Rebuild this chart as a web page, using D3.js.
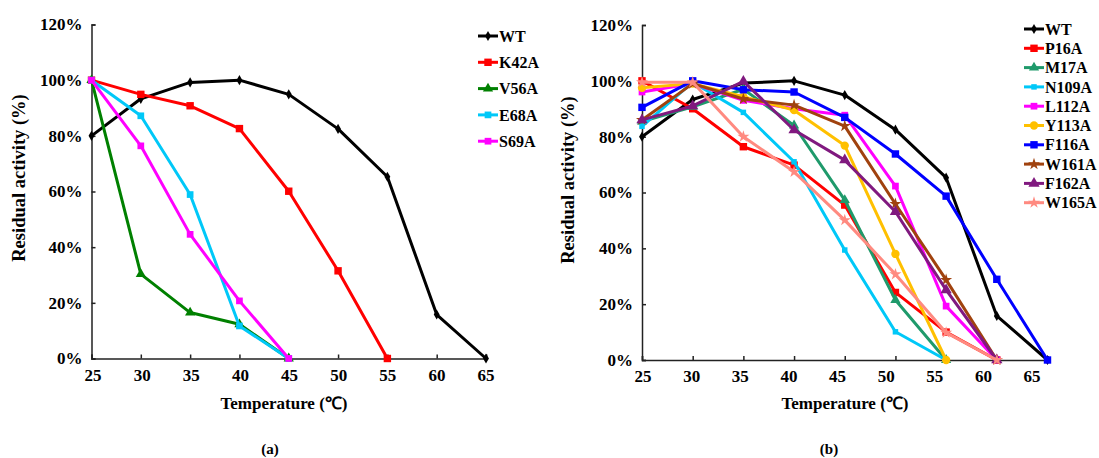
<!DOCTYPE html>
<html>
<head>
<meta charset="utf-8">
<script src="https://cdn.jsdelivr.net/npm/d3@7"></script>
<style>
  body { margin: 0; background: #fff; }
  text { font-family: "Liberation Serif", "Times New Roman", serif; font-weight: bold; fill: #000; }
</style>
</head>
<body>
<svg id="chart" width="1099" height="458"></svg>
<script>
// temperatures (category axis)
const temps = [25, 30, 35, 40, 45, 50, 55, 60, 65];
const yTicks = [0, 20, 40, 60, 80, 100, 120];

// panel (a) residual activity, %
const wtA = [80, 93.3, 99.2, 100, 94.9, 82.5, 65.3, 15.8, 0];
const k42a = [100, 94.9, 90.8, 82.6, 60.1, 31.5, 0];
const v56a = [100, 30.3, 16.5, 12.3, 0];
const e68a = [100, 87.2, 58.9, 11.7, 0];
const s69a = [100, 76.4, 44.6, 20.7, 0];

// panel (b) residual activity, %
const wtB = [80, 93.3, 99.2, 100, 94.9, 82.5, 65.3, 15.8, 0];
const p16a = [100, 90, 76.4, 69.8, 55.5, 24.2, 10, 0];
const m17a = [85.4, 90.7, 97, 84, 57.3, 21.5, 0];
const n109a = [83.7, 99.5, 88.7, 71, 39.4, 10.1, 0];
const l112a = [96, 99, 93, 90, 87.7, 62.3, 19.3, 0];
const y113a = [97.5, 99, 94.3, 89.5, 76.8, 38, 0];
const f116a = [90.5, 100, 96.8, 96, 86.9, 73.8, 58.7, 28.9, 0];
const w161a = [86, 99, 93.5, 91.3, 83.8, 55.9, 28.7, 0];
const f162a = [86, 91, 99.8, 82.4, 71.6, 53.1, 25.1, 0];
const w165a = [99.5, 99.5, 80, 67.4, 50.1, 30.7, 9.8, 0];

const seriesA = [
  { name: 'WT', values: wtA, color: '#000000', symbol: d3.symbolDiamond, size: 30 },
  { name: 'K42A', values: k42a, color: '#ff0000', symbol: d3.symbolSquare, size: 55 },
  { name: 'V56A', values: v56a, color: '#008000', symbol: d3.symbolTriangle, size: 45 },
  { name: 'E68A', values: e68a, color: '#00c8f8', symbol: d3.symbolSquare, size: 45 },
  { name: 'S69A', values: s69a, color: '#ff00ff', symbol: d3.symbolSquare, size: 45 }
];

const seriesB = [
  { name: 'WT', values: wtB, color: '#000000', symbol: d3.symbolDiamond, size: 30 },
  { name: 'P16A', values: p16a, color: '#ff0000', symbol: d3.symbolSquare, size: 55 },
  { name: 'M17A', values: m17a, color: '#1f9a6b', symbol: d3.symbolTriangle, size: 45 },
  { name: 'N109A', values: n109a, color: '#00c8f8', symbol: d3.symbolSquare, size: 30 },
  { name: 'L112A', values: l112a, color: '#ff00ff', symbol: d3.symbolSquare, size: 45 },
  { name: 'Y113A', values: y113a, color: '#ffc000', symbol: d3.symbolCircle, size: 55 },
  { name: 'F116A', values: f116a, color: '#0000ff', symbol: d3.symbolSquare, size: 55 },
  { name: 'W161A', values: w161a, color: '#a0420e', symbol: d3.symbolStar, size: 45 },
  { name: 'F162A', values: f162a, color: '#80197f', symbol: d3.symbolTriangle, size: 55 },
  { name: 'W165A', values: w165a, color: '#ff8a80', symbol: d3.symbolStar, size: 45 }
];

const svg = d3.select('#chart');
svg.append('rect').attr('width', 1099).attr('height', 458).attr('fill', '#fff');

function drawPanel(opts) {
  const g = svg.append('g');
  const x = d3.scalePoint().domain(temps).range(opts.xRange);
  const xLab = d3.scalePoint().domain(temps).range(opts.labRange);
  const y = d3.scaleLinear().domain([0, 120]).range(opts.yRange);

  // y axis
  const yAxis = g.append('g')
    .attr('transform', `translate(${opts.xRange[0]},0)`)
    .call(d3.axisLeft(y).tickValues(yTicks).tickSize(-4).tickPadding(9).tickFormat((d) => d + '%'));
  yAxis.selectAll('text').style('font-size', '17px');

  // x axis: ticks on data scale, labels on their own scale
  const xAxis = g.append('g')
    .attr('transform', `translate(0,${opts.yRange[0]})`)
    .call(d3.axisBottom(x).tickSize(-4).tickFormat(''));
  const xLabels = g.append('g')
    .attr('transform', `translate(0,${opts.yRange[0]})`)
    .call(d3.axisBottom(xLab).tickSize(0).tickPadding(10));
  xLabels.select('.domain').remove();
  xLabels.selectAll('text').style('font-size', '17px');

  g.selectAll('.domain, .tick line').attr('stroke', '#222').attr('stroke-width', 1.5);

  g.append('text')
    .attr('x', opts.xTitle[0]).attr('y', opts.xTitle[1])
    .attr('text-anchor', 'middle').style('font-size', '17px')
    .text('Temperature (℃)');

  g.append('text')
    .attr('transform', `translate(${opts.yTitle[0]},${opts.yTitle[1]}) rotate(-90)`)
    .attr('text-anchor', 'middle').style('font-size', '18.5px')
    .text('Residual activity (%)');

  g.append('text')
    .attr('x', opts.tag[0]).attr('y', opts.tag[1])
    .attr('text-anchor', 'middle').style('font-size', '15px')
    .text(opts.label);

  const line = d3.line()
    .x((d, i) => x(temps[i]))
    .y((d) => y(d));

  const s = g.selectAll('.series')
    .data(opts.series)
    .enter()
    .append('g')
    .attr('class', 'series');

  s.append('path')
    .attr('d', (d) => line(d.values))
    .attr('fill', 'none')
    .attr('stroke', (d) => d.color)
    .attr('stroke-width', 3)
    .attr('stroke-linejoin', 'round');

  s.each(function (d) {
    d3.select(this).selectAll('path.mk')
      .data(d.values)
      .enter()
      .append('path')
      .attr('class', 'mk')
      .attr('transform', (v, i) => `translate(${x(temps[i])},${y(v)})`)
      .attr('d', d3.symbol().type(d.symbol).size(d.size))
      .attr('fill', d.color);
  });

  // legend
  const lg = g.selectAll('.legend')
    .data(opts.series)
    .enter()
    .append('g')
    .attr('transform', (d, i) => `translate(${opts.legend[0]},${opts.legend[1] + i * opts.legend[2]})`);
  lg.append('line')
    .attr('x1', 0).attr('x2', 20)
    .attr('stroke', (d) => d.color).attr('stroke-width', 3);
  lg.append('path')
    .attr('transform', 'translate(10,0)')
    .attr('d', (d) => d3.symbol().type(d.symbol).size(d.size)())
    .attr('fill', (d) => d.color);
  lg.append('text')
    .attr('x', 21).attr('dy', '0.35em')
    .style('font-size', '16px')
    .text((d) => d.name);
}

drawPanel({
  series: seriesA,
  xRange: [91.5, 486],
  labRange: [92.5, 485.5],
  yRange: [358.5, 24.5],
  xTitle: [284, 409],
  yTitle: [25, 178],
  tag: [270, 454],
  label: '(a)',
  legend: [478, 36, 26.3]
});

drawPanel({
  series: seriesB,
  xRange: [642, 1047.5],
  labRange: [642.5, 1031.5],
  yRange: [360, 25],
  xTitle: [845, 409],
  yTitle: [574, 180],
  tag: [829, 454],
  label: '(b)',
  legend: [1024, 29, 19.3]
});
</script>
</body>
</html>
